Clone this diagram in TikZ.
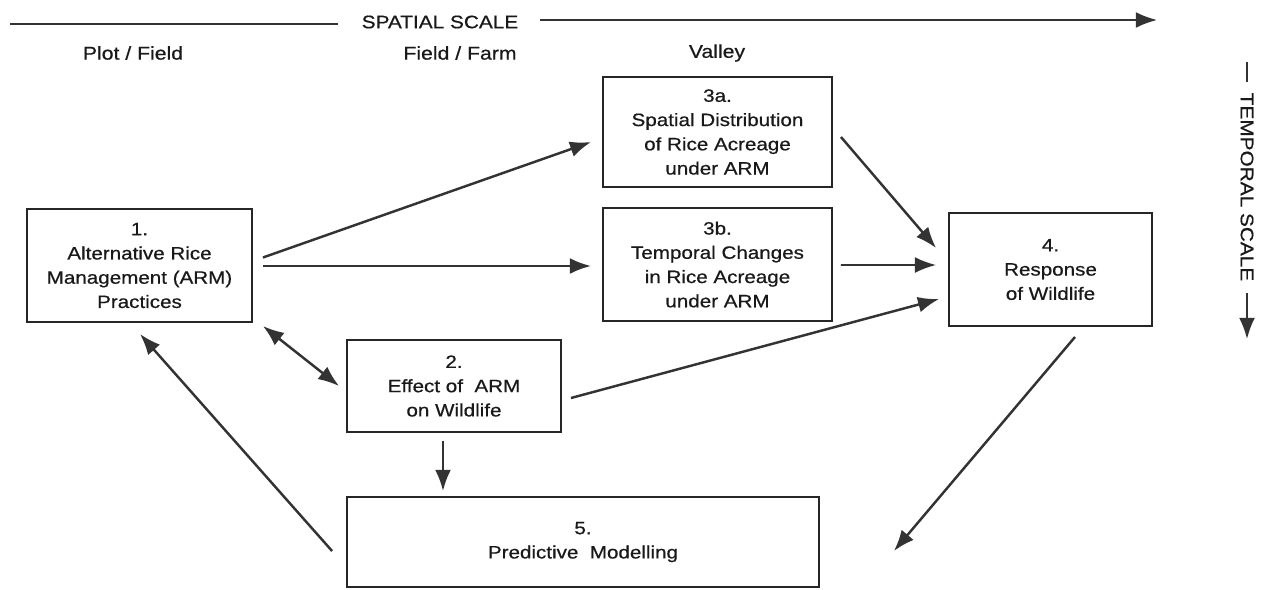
\documentclass[tikz,border=0pt]{standalone}
\usepackage{fontspec}
\setmainfont[FakeStretch=1.15,FakeBold=0.6]{Liberation Sans}
\usetikzlibrary{arrows.meta,calc}
\begin{document}
\begin{tikzpicture}[x=0.02cm,y=-0.02cm,
  box/.style={draw=black!85,line width=1.1pt,align=center,text=black!90,font=\fontsize{10.2}{13.8}\selectfont,inner sep=0pt},
  conn/.style={line width=1.4pt,draw=black!80,-{Latex[length=12pt,width=9pt]}},
  both/.style={line width=1.4pt,draw=black!80,{Latex[length=12pt,width=9pt]}-{Latex[length=12pt,width=9pt]}},
  thin/.style={line width=1.1pt},
  lbl/.style={font=\fontsize{10.5}{12}\selectfont,inner sep=0pt,text=black!90},
  scl/.style={font=\fontsize{10.3}{12}\selectfont,inner sep=0pt,text=black!90}]
\useasboundingbox (0,0) rectangle (1266,589);
% boxes
\node[box,minimum width=4.5cm,minimum height=2.26cm] (b1) at (139.5,265.5) {1.\\Alternative Rice\\Management (ARM)\\Practices};
\node[box,minimum width=4.58cm,minimum height=2.2cm] (b3a) at (717.5,132) {3a.\\Spatial Distribution\\of Rice Acreage\\under ARM};
\node[box,minimum width=4.58cm,minimum height=2.26cm] (b3b) at (717.5,264.5) {3b.\\Temporal Changes\\in Rice Acreage\\under ARM};
\node[box,minimum width=4.06cm,minimum height=2.26cm] (b4) at (1050.5,269.5) {4.\\Response\\of Wildlife};
\node[box,minimum width=4.28cm,minimum height=1.84cm] (b2) at (454,386) {2.\\Effect of\ \ ARM\\on Wildlife};
\node[box,minimum width=9.44cm,minimum height=1.8cm] (b5) at (583,542) {5.\\Predictive\ \ Modelling};
% scale labels
\node[scl] (ss) at (440,22) {SPATIAL SCALE};
\coordinate (ssl) at (10,24);
\coordinate (ssm) at (338,24);
\coordinate (ssa) at (540,20);
\coordinate (ssr) at (1157,20);
\draw[thin,black!80] (ssl) -- (ssm);
\draw[conn,thin] (ssa) -- (ssr);
\node[lbl] (pf) at (133,53) {Plot / Field};
\node[lbl] (ff) at (460,53) {Field / Farm};
\node[lbl] (va) at (717,53) {Valley};
\node[scl,rotate=-90] (ts) at (1247,187) {TEMPORAL SCALE};
\coordinate (tst) at (1247,62);
\coordinate (tsm) at (1247,82);
\coordinate (tsa) at (1247,293);
\coordinate (tsb) at (1247,339);
\draw[thin,black!80] (tst) -- (tsm);
\draw[conn,thin] (tsa) -- (tsb);
% connectors
\draw[conn] ($(b1.east)+(10,-8)$) -- ($(b3a.west)+(-11,10)$);
\draw[conn] ($(b1.east)+(10,0.5)$) -- ($(b3b.west)+(-11,1.5)$);
\draw[both] ($(b1.south east)+(10,3)$) -- ($(b2.west)+(-7,0)$);
\draw[conn] ($(b3a.east)+(8,5)$) -- ($(b4.west)+(-12,-21.5)$);
\draw[conn,thin] ($(b3b.east)+(8,0.5)$) -- ($(b4.west)+(-12,-4.5)$);
\draw[conn] ($(b2.east)+(9,12)$) -- ($(b4.west)+(-9,29.5)$);
\draw[conn] ($(b2.south)+(-11,8)$) -- ($(b5.north)+(-140,-5)$);
\draw[conn] ($(b4.south)+(24.5,10)$) -- ($(b5.east)+(74,9)$);
\draw[conn] ($(b5.west)+(-14,9)$) -- ($(b1.south)+(0.5,11)$);
\end{tikzpicture}
\end{document}
